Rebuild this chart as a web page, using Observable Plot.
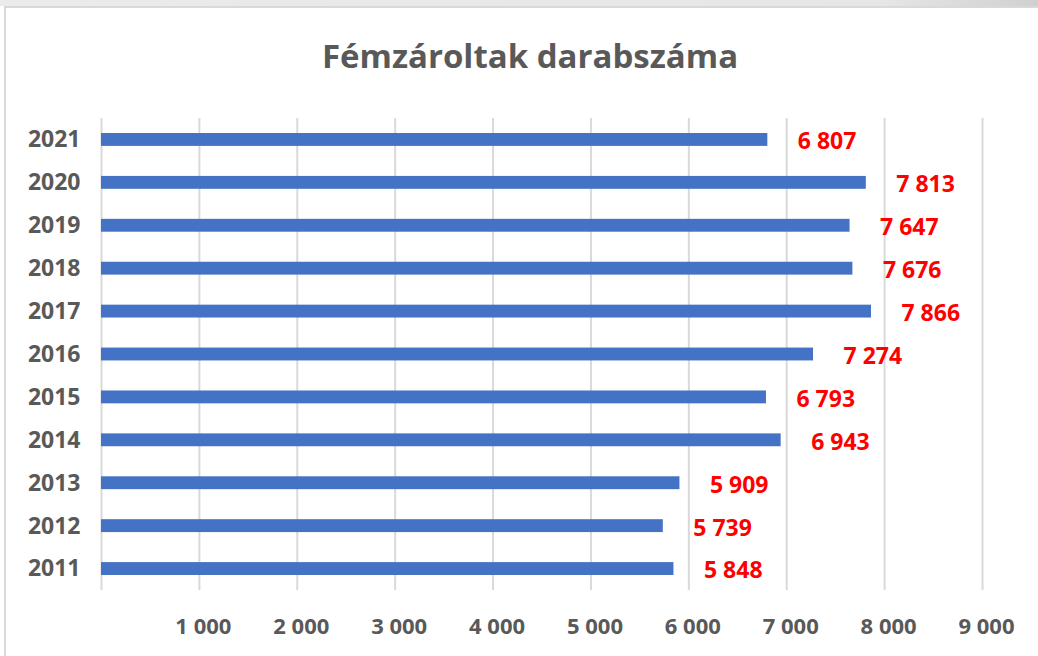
<!DOCTYPE html>
<html>
<head>
<meta charset="utf-8">
<script src="https://cdn.jsdelivr.net/npm/d3@7"></script>
<script src="https://cdn.jsdelivr.net/npm/@observablehq/plot@0.6"></script>
<style>
  html, body { margin: 0; padding: 0; background: #ffffff; }
  body { width: 1038px; height: 656px; position: relative; overflow: hidden; font-family: "Open Sans", sans-serif; }
  #topband { position: absolute; left: 0; top: 0; width: 1038px; height: 6px; background: linear-gradient(to right, #ebebeb, #e6e6e6 85%, #d0d0d0); }
  #frame { position: absolute; left: 4px; top: 6px; width: 1040px; height: 660px; border-left: 2px solid #d9d9d9; border-top: 2px solid #d9d9d9; box-sizing: border-box; }
  #title { position: absolute; left: 0; top: 33px; width: 1060px; text-align: center; font-size: 33px; font-weight: 700; color: #595959; line-height: 46px; }
  #chart { position: absolute; left: 0; top: 100px; }
</style>
</head>
<body>
<div id="topband"></div>
<div id="frame"></div>
<div id="title">Fémzároltak darabszáma</div>
<div id="chart"></div>
<script>
const years = ["2021","2020","2019","2018","2017","2016","2015","2014","2013","2012","2011"];
const counts = [6807, 7813, 7647, 7676, 7866, 7274, 6793, 6943, 5909, 5739, 5848];
const gridTicks = [0, 1000, 2000, 3000, 4000, 5000, 6000, 7000, 8000, 9000];
const labelTicks = [1000, 2000, 3000, 4000, 5000, 6000, 7000, 8000, 9000];

const data = years.map((y, i) => ({year: y, value: counts[i]}));
const fmt = d => d3.format(",")(d).replace(/,/g, " ");

const chart = Plot.plot({
  width: 1038,
  height: 556,
  marginLeft: 101,
  marginRight: 56,
  marginTop: 18,
  marginBottom: 66,
  style: {fontFamily: "'Open Sans', sans-serif", background: "transparent"},
  x: {domain: [0, 9000], ticks: labelTicks, tickFormat: fmt, tickSize: 0, tickPadding: 30, label: null},
  y: {domain: years, paddingInner: 0.7, paddingOuter: 0.35, round: false, tickSize: 0, tickPadding: 21, label: null},
  marks: [
    Plot.ruleX(gridTicks, {stroke: "#d9d9d9", strokeWidth: 2}),
    Plot.barX(data, {x: "value", y: "year", fill: "#4472C4"}),
    Plot.text(data, {x: "value", y: "year", text: d => fmt(d.value), dx: 30, dy: 2, textAnchor: "start", fill: "#ff0000", fontWeight: "bold", fontSize: 23}),
    Plot.axisY({tickSize: 0, tickPadding: 21, fontSize: 23, fontWeight: "bold", fill: "#595959"}),
    Plot.axisX({ticks: labelTicks, tickFormat: fmt, tickSize: 0, tickPadding: 28, fontSize: 22, fontWeight: "bold", fill: "#595959", dx: 4})
  ]
});
document.getElementById("chart").appendChild(chart);
</script>
</body>
</html>
